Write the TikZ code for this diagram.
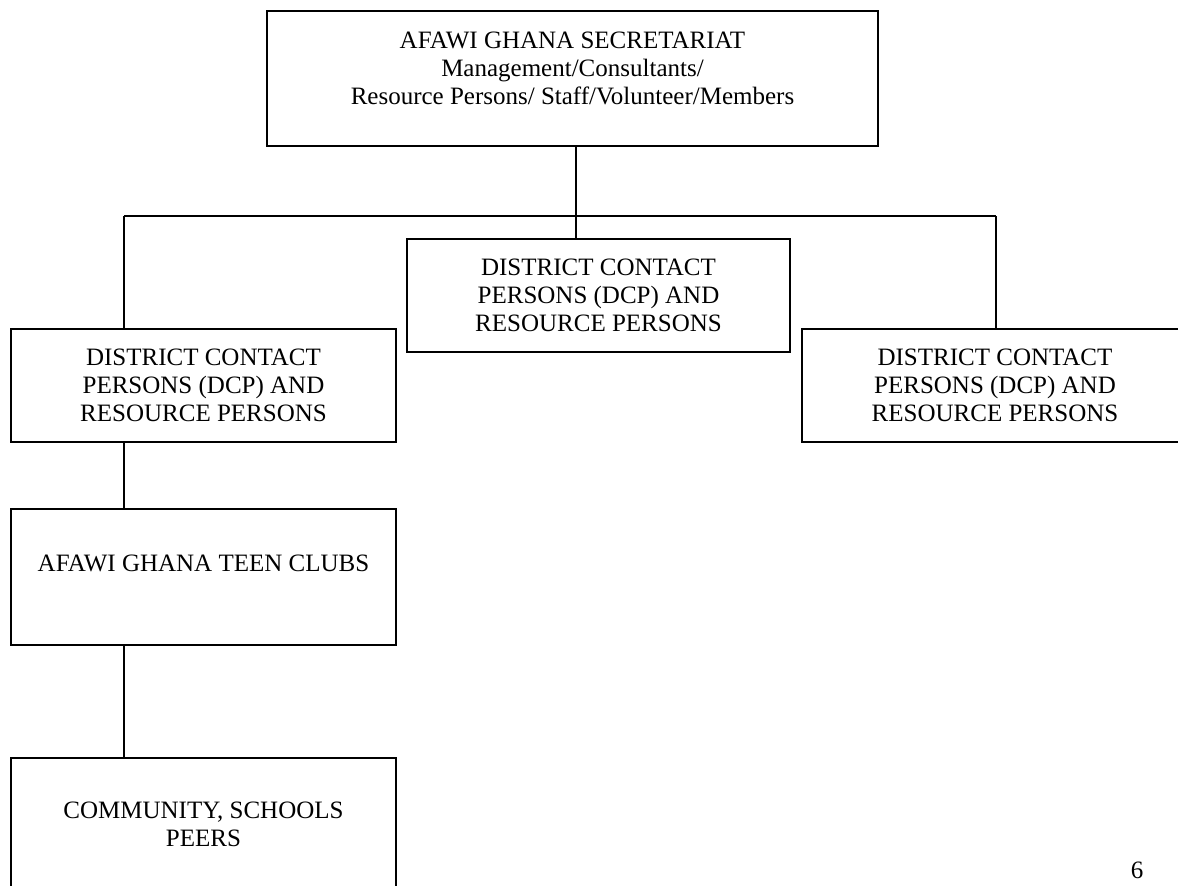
\documentclass[tikz,border=0pt]{standalone}
\usepackage{fontspec}
\setmainfont{Liberation Serif}
\begin{document}
\begin{tikzpicture}[x=1pt,y=-1pt,
  box/.style={draw, line width=1.6pt, rectangle, inner sep=0pt, align=center,
    font=\fontsize{25}{28.3}\selectfont},
  conn/.style={line width=1.6pt}]
\useasboundingbox (0,0) rectangle (1178,886);
\node[box, minimum width=611, minimum height=135] (top) at (572.5,78.5)
  {AFAWI GHANA SECRETARIAT\\ Management/Consultants/\\ Resource Persons/ Staff/Volunteer/Members\\[-16pt] \strut};
\node[box, minimum width=383, minimum height=113] (mid) at (598.5,295.5)
  {DISTRICT CONTACT\\ PERSONS (DCP) AND\\ RESOURCE PERSONS};
\node[box, minimum width=385, minimum height=113] (left) at (203.5,385.5)
  {DISTRICT CONTACT\\ PERSONS (DCP) AND\\ RESOURCE PERSONS};
\node[box, minimum width=386, minimum height=113] (right) at (995,385.5)
  {DISTRICT CONTACT\\ PERSONS (DCP) AND\\ RESOURCE PERSONS};
\node[box, minimum width=385, minimum height=136] (teen) at (203.5,577)
  {AFAWI GHANA TEEN CLUBS\\[-10pt] \strut};
\node[box, minimum width=385, minimum height=132] (comm) at (203.5,824)
  {COMMUNITY, SCHOOLS\\ PEERS};
\node[font=\fontsize{25}{28.3}\selectfont, inner sep=0pt] (pg) at (1137,870) {6};
\coordinate (bus) at (576,216);
\coordinate (jL) at (124,216);
\coordinate (jR) at (996,216);
\draw[conn] (top.south -| bus) -- (bus);
\draw[conn] (jL) -- (jR);
\draw[conn] (bus) -- (bus |- mid.north);
\draw[conn] (jL) -- (jL |- left.north);
\draw[conn] (jR) -- (jR |- right.north);
\draw[conn] (jL |- left.south) -- (jL |- teen.north);
\draw[conn] (jL |- teen.south) -- (jL |- comm.north);
\end{tikzpicture}
\end{document}
